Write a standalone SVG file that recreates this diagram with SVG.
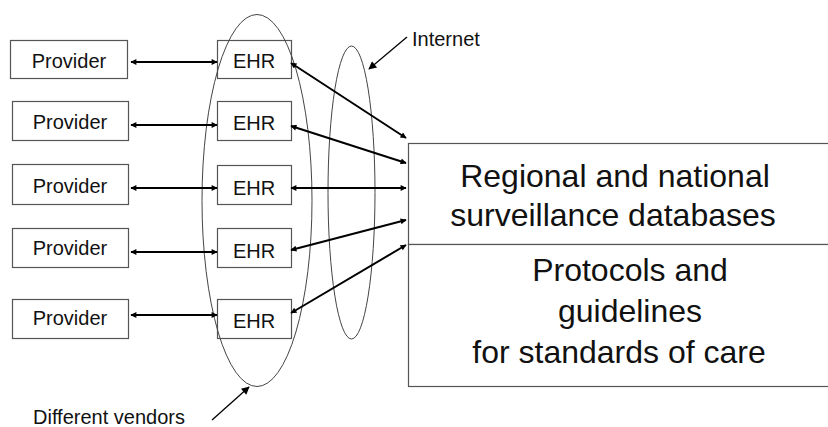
<svg xmlns="http://www.w3.org/2000/svg" width="828" height="427" viewBox="0 0 828 427">
<style>
.box{fill:#fff;stroke:#555;stroke-width:1.2}
.lbl{font-family:"Liberation Sans",Arial,sans-serif;font-size:20px;fill:#111;text-anchor:middle}
.big{font-family:"Liberation Sans",Arial,sans-serif;font-size:32px;fill:#111;text-anchor:middle}
.note{font-family:"Liberation Sans",Arial,sans-serif;font-size:20px;fill:#111}
.ell{fill:none;stroke:#444;stroke-width:1}
.arr{stroke:#000;stroke-width:2;fill:none;marker-start:url(#ah);marker-end:url(#ah)}
.ptr{stroke:#000;stroke-width:1.3;fill:none;marker-end:url(#ah2)}
</style>
<defs>
<marker id="ah" viewBox="0 0 10 10" refX="9" refY="5" markerWidth="8" markerHeight="6" markerUnits="userSpaceOnUse" orient="auto-start-reverse"><path d="M0,0 L10,5 L0,10 z" fill="#000"/></marker>
<marker id="ah2" viewBox="0 0 10 10" refX="9" refY="5" markerWidth="10" markerHeight="8" markerUnits="userSpaceOnUse" orient="auto"><path d="M0,0 L10,5 L0,10 z" fill="#000"/></marker>
</defs>
<g id="big-box">
<rect class="box" x="408.5" y="143.5" width="430" height="101"/>
<rect class="box" x="408.5" y="244.5" width="430" height="142"/>
<text class="big" x="615" y="187">Regional and national</text>
<text class="big" x="613" y="226">surveillance databases</text>
<text class="big" x="630" y="281">Protocols and</text>
<text class="big" x="630" y="322">guidelines</text>
<text class="big" x="619" y="363">for standards of care</text>
</g>
<g id="provider1"><rect class="box" x="10.5" y="40.5" width="117" height="38"/><text class="lbl" x="69" y="68">Provider</text></g>
<g id="provider2"><rect class="box" x="12.5" y="101.5" width="116" height="39"/><text class="lbl" x="70" y="129">Provider</text></g>
<g id="provider3"><rect class="box" x="12.5" y="164.5" width="116" height="40"/><text class="lbl" x="70" y="193">Provider</text></g>
<g id="provider4"><rect class="box" x="12.5" y="228.5" width="116" height="39"/><text class="lbl" x="70" y="255">Provider</text></g>
<g id="provider5"><rect class="box" x="12.5" y="299.5" width="116" height="39"/><text class="lbl" x="70" y="325">Provider</text></g>
<g id="ehr1"><rect class="box" x="217.5" y="40.5" width="74" height="38"/><text class="lbl" x="254" y="68">EHR</text></g>
<g id="ehr2"><rect class="box" x="217.5" y="101.5" width="74" height="39"/><text class="lbl" x="254" y="130">EHR</text></g>
<g id="ehr3"><rect class="box" x="217.5" y="165.5" width="74" height="39"/><text class="lbl" x="254" y="195">EHR</text></g>
<g id="ehr4"><rect class="box" x="217.5" y="228.5" width="74" height="39"/><text class="lbl" x="254" y="258">EHR</text></g>
<g id="ehr5"><rect class="box" x="217.5" y="299.5" width="74" height="39"/><text class="lbl" x="254" y="328">EHR</text></g>
<g id="vendors">
<ellipse class="ell" cx="257" cy="200.5" rx="55" ry="186"/>
<text class="note" x="33" y="424">Different vendors</text>
</g>
<g id="internet">
<ellipse class="ell" cx="351.5" cy="192.5" rx="23.5" ry="146.5"/>
<text class="note" x="412" y="46">Internet</text>
</g>
<g id="connectors">
<line class="arr" x1="131" y1="62" x2="217" y2="62"/>
<line class="arr" x1="131" y1="125" x2="217" y2="125"/>
<line class="arr" x1="131" y1="188" x2="217" y2="188"/>
<line class="arr" x1="131" y1="252" x2="217" y2="252"/>
<line class="arr" x1="131" y1="315" x2="217" y2="315"/>
<line class="arr" x1="291" y1="63" x2="406" y2="138"/>
<line class="arr" x1="291" y1="126" x2="406" y2="163"/>
<line class="arr" x1="291" y1="188" x2="406" y2="188"/>
<line class="arr" x1="291" y1="250" x2="406" y2="220"/>
<line class="arr" x1="291" y1="313" x2="406" y2="245"/>
<line class="ptr" x1="407" y1="37" x2="369" y2="69"/>
<line class="ptr" x1="212" y1="420" x2="249" y2="387"/>
</g>
</svg>
